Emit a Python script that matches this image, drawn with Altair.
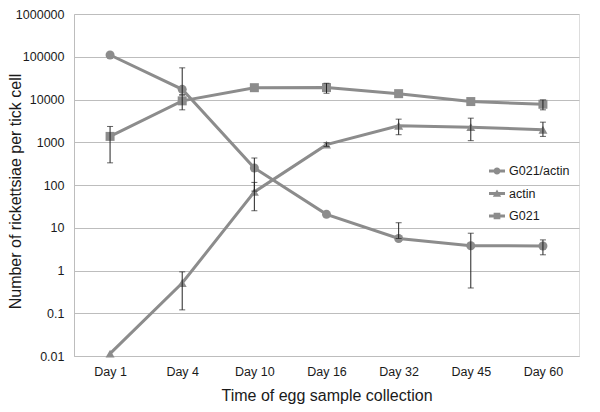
import altair as alt
import pandas as pd

days = ["Day 1", "Day 4", "Day 10", "Day 16", "Day 32", "Day 45", "Day 60"]
series_names = ["G021/actin", "actin", "G021"]

ratio_vals = [110000, 17300, 250, 20.6, 5.6, 3.8, 3.75]
ratio_lo = [None, 12800, 72, None, 5.6, 0.39, 2.33]
ratio_hi = [None, 55000, 428, None, 13.1, 7.45, 5.2]

actin_vals = [0.0114, 0.51, 69, 880, 2430, 2250, 1960]
actin_lo = [None, 0.12, 25, 800, 1500, 1090, 1370]
actin_hi = [None, 0.93, 115, 970, 3470, 3660, 2950]

g021_vals = [1370, 9300, 18900, 19000, 13700, 8950, 7740]
g021_lo = [330, 5730, None, 14000, None, None, 5730]
g021_hi = [2340, 12800, None, 24000, None, None, 9800]

y_ticks = [0.01, 0.1, 1, 10, 100, 1000, 10000, 100000, 1000000]

marker_shapes = ["circle", "triangle-up", "square"]
legend_shapes = [
    "M-1,-0.19H1V0.19H-1Z M0.44,0A0.44,0.44 0 1,1 -0.44,0A0.44,0.44 0 1,1 0.44,0Z",
    "M-1,-0.19H1V0.19H-1Z M0,-0.5L0.52,0.42L-0.52,0.42Z",
    "M-1,-0.19H1V0.19H-1Z M-0.42,-0.42H0.42V0.42H-0.42Z",
]

GRAY = "#8c8c8c"
GRID = "#bdbdbd"
TEXT = "#1a1a1a"
FONT = "Liberation Sans"

rows = []
for name, vals, lo, hi in [
    (series_names[0], ratio_vals, ratio_lo, ratio_hi),
    (series_names[1], actin_vals, actin_lo, actin_hi),
    (series_names[2], g021_vals, g021_lo, g021_hi),
]:
    for d, v, l, h in zip(days, vals, lo, hi):
        rows.append({"day": d, "series": name, "value": v, "lo": l, "hi": h})
df = pd.DataFrame(rows)

x_enc = alt.X(
    "day:N",
    sort=days,
    scale=alt.Scale(type="point", padding=0.5),
    axis=alt.Axis(
        title="Time of egg sample collection",
        labelAngle=0,
        ticks=False,
        tickSize=0,
        grid=False,
        domainColor=GRID,
        labelPadding=9,
        titlePadding=10,
        labelFontSize=12.5,
        titleFontSize=16,
        labelColor=TEXT,
        titleColor=TEXT,
        titleFontWeight="normal",
        labelFont=FONT,
        titleFont=FONT,
    ),
)

y_scale = alt.Scale(type="log", domain=[0.01, 1000000], nice=False)
y_enc = alt.Y(
    "value:Q",
    scale=y_scale,
    axis=alt.Axis(
        values=y_ticks,
        labelExpr="datum.value >= 1 ? format(datum.value, 'd') : format(datum.value, '~g')",
        title="Number of rickettsiae per tick cell",
        ticks=False,
        tickSize=0,
        grid=True,
        gridColor=GRID,
        gridWidth=1,
        domainColor=GRID,
        labelPadding=10,
        labelFontSize=12.5,
        titleFontSize=16,
        labelColor=TEXT,
        titleColor=TEXT,
        titleFontWeight="normal",
        titleBaseline="middle",
        titleX=-59,
        titleY=177,
        labelFont=FONT,
        titleFont=FONT,
    ),
)

base = alt.Chart(df)

lines = base.mark_line(color=GRAY, strokeWidth=3).encode(
    x=x_enc, y=y_enc, detail="series:N"
)

points = base.mark_point(filled=True, color=GRAY, opacity=1, size=81).encode(
    x=x_enc,
    y=y_enc,
    shape=alt.Shape(
        "series:N",
        scale=alt.Scale(domain=series_names, range=marker_shapes),
        legend=None,
    ),
)

err_base = base.transform_filter("isValid(datum.lo)")
rules = err_base.mark_rule(color="#222222", strokeWidth=1).encode(
    x=alt.X("day:N", sort=days), y=alt.Y("lo:Q", scale=y_scale), y2="hi:Q"
)
caps_lo = err_base.mark_tick(color="#222222", thickness=1, size=6).encode(
    x=alt.X("day:N", sort=days), y=alt.Y("lo:Q", scale=y_scale)
)
caps_hi = err_base.mark_tick(color="#222222", thickness=1, size=6).encode(
    x=alt.X("day:N", sort=days), y=alt.Y("hi:Q", scale=y_scale)
)

legend_layer = base.transform_filter("false").mark_point(
    filled=True, color=GRAY, opacity=1
).encode(
    x=alt.X("day:N", sort=days),
    y=alt.Y("value:Q", scale=y_scale),
    shape=alt.Shape(
        "series:N",
        scale=alt.Scale(domain=series_names, range=legend_shapes),
        legend=alt.Legend(
            title=None,
            orient="none",
            legendX=415,
            legendY=149,
            padding=0,
            rowPadding=7.5,
            labelOffset=4,
            symbolSize=256,
            symbolFillColor=GRAY,
            symbolStrokeWidth=0,
            symbolOpacity=1,
            labelFontSize=12.5,
            labelColor=TEXT,
            labelFont=FONT,
        ),
    ),
)

chart = (
    alt.layer(lines, points, rules, caps_lo, caps_hi, legend_layer)
    .resolve_scale(shape="independent")
    .properties(
        width=505,
        height=342,
        autosize=alt.AutoSizeParams(type="none"),
        padding={"left": 66, "top": 6, "right": 13, "bottom": 48},
        background="white",
    )
    .configure_view(stroke=None)
    .configure(font=FONT)
)

chart.save("out.html", embed_options={"renderer": "svg", "actions": False})
